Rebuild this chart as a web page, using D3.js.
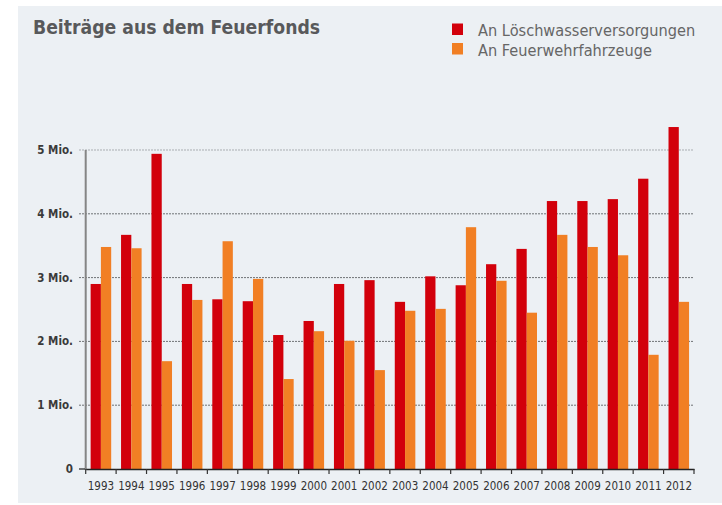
<!DOCTYPE html>
<html>
<head>
<meta charset="utf-8">
<script src="https://cdn.jsdelivr.net/npm/d3@7"></script>
<style>
  html, body { margin: 0; padding: 0; background: #fff; }
  svg { display: block; }
  text { font-family: "DejaVu Sans Condensed", "DejaVu Sans", sans-serif; font-stretch: condensed; }
</style>
</head>
<body>
<svg id="graphe" width="722" height="505"></svg>
<script>
// Données (en millions)
const annees = ['1993','1994','1995','1996','1997','1998','1999','2000','2001','2002',
                '2003','2004','2005','2006','2007','2008','2009','2010','2011','2012']
const loeschwasser = [2.90, 3.67, 4.94, 2.90, 2.66, 2.63, 2.10, 2.32, 2.90, 2.96,
                      2.62, 3.02, 2.88, 3.21, 3.45, 4.20, 4.20, 4.23, 4.55, 5.36]
const fahrzeuge = [3.48, 3.46, 1.69, 2.65, 3.57, 2.98, 1.41, 2.16, 2.01, 1.55,
                   2.48, 2.51, 3.79, 2.95, 2.45, 3.67, 3.48, 3.35, 1.79, 2.62]
const series = ['An Löschwasserversorgungen', 'An Feuerwehrfahrzeuge']
const couleurs = ['#d2000b', '#f17f24']
const ticksY = [0, 1, 2, 3, 4, 5]
const libellesY = ['0', '1 Mio.', '2 Mio.', '3 Mio.', '4 Mio.', '5 Mio.']

const svg = d3.select('#graphe')

// fond du panneau
svg.append('rect')
    .attr('x', 18).attr('y', 6)
    .attr('width', 704).attr('height', 497)
    .attr('fill', '#ecf0f4')

// échelles
const x = d3.scaleBand().domain(annees).range([85.7, 694]).padding(0)
const x1 = d3.scaleBand().domain(series).range([0, x.bandwidth()]).paddingInner(0).paddingOuter(0.48)
const y = d3.scaleLinear().domain([0, 5]).range([469, 150])

// lignes de grille pointillées
svg.append('g').selectAll('line')
    .data(ticksY.filter(d => d > 0))
    .join('line')
    .attr('x1', 79).attr('x2', 693)
    .attr('y1', d => y(d)).attr('y2', d => y(d))
    .attr('stroke', d => d === 5 ? '#a9adb1' : '#6f7275')
    .attr('stroke-width', 1)
    .attr('stroke-dasharray', '2,1')

// barres
const donnees = annees.map((a, i) => ({annee: a, valeurs: [loeschwasser[i], fahrzeuge[i]]}))
const groupes = svg.append('g').selectAll('g')
    .data(donnees)
    .join('g')
    .attr('transform', d => `translate(${x(d.annee)},0)`)
groupes.selectAll('rect')
    .data(d => d.valeurs.map((v, j) => ({serie: series[j], v: v, j: j})))
    .join('rect')
    .attr('x', d => x1(d.serie))
    .attr('y', d => y(d.v))
    .attr('width', x1.bandwidth())
    .attr('height', d => y(0) - y(d.v))
    .attr('fill', d => couleurs[d.j])

// axe Y
svg.append('line')
    .attr('x1', 85.7).attr('x2', 85.7)
    .attr('y1', y(5)).attr('y2', y(0) + 1)
    .attr('stroke', '#858585').attr('stroke-width', 2)
svg.append('g').selectAll('text')
    .data(ticksY)
    .join('text')
    .attr('x', 73)
    .attr('y', d => y(d))
    .attr('dy', '0.35em')
    .attr('text-anchor', 'end')
    .attr('font-size', 11.5)
    .attr('font-weight', 'bold')
    .attr('fill', '#3a3a3a')
    .text((d, i) => libellesY[i])
svg.append('line')
    .attr('x1', 79).attr('x2', 85)
    .attr('y1', y(0)).attr('y2', y(0))
    .attr('stroke', '#222').attr('stroke-width', 1.2)

// axe X
const axeX = d3.axisBottom(x).tickSize(0).tickPadding(13)
const gX = svg.append('g')
    .attr('transform', `translate(0,${y(0)})`)
    .call(axeX)
gX.select('.domain').attr('stroke', '#222').attr('stroke-width', 1.5)
gX.selectAll('text')
    .attr('font-size', 11.5)
    .attr('fill', '#333')
    .style('font-family', '"DejaVu Sans Condensed", "DejaVu Sans", sans-serif')
svg.append('g').selectAll('line')
    .data(x.domain().map(a => x(a)).concat([x.range()[1]]))
    .join('line')
    .attr('x1', d => d).attr('x2', d => d)
    .attr('y1', y(0)).attr('y2', y(0) + 5)
    .attr('stroke', '#333').attr('stroke-width', 1.2)

// titre
svg.append('text')
    .attr('x', 33).attr('y', 34)
    .attr('font-size', 19.2)
    .attr('font-weight', 'bold')
    .attr('fill', '#58595b')
    .text('Beiträge aus dem Feuerfonds')

// légende
const legende = svg.append('g').selectAll('g')
    .data(series)
    .join('g')
    .attr('transform', (d, i) => `translate(452,${23.5 + i * 19.5})`)
legende.append('rect')
    .attr('width', 11).attr('height', 11.5)
    .attr('fill', (d, i) => couleurs[i])
legende.append('text')
    .attr('x', 26).attr('y', 12.5)
    .attr('font-size', 16.2)
    .attr('fill', '#666')
    .text(d => d)
</script>
</body>
</html>
